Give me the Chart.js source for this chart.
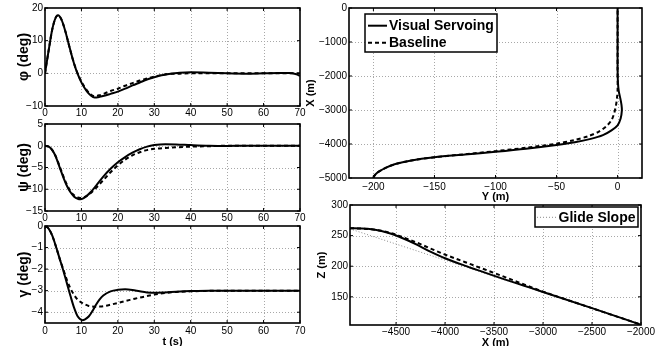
<!DOCTYPE html>
<html><head><meta charset="utf-8">
<script src="https://cdn.jsdelivr.net/npm/chart.js@4"></script>
<style>
html,body{margin:0;padding:0;background:#fff;overflow:hidden;width:664px;height:346px}
canvas{position:absolute}
</style></head><body>
<canvas id="c1" width="310" height="120" style="left:0;top:0;width:310px;height:120px"></canvas>
<canvas id="c2" width="310" height="109" style="left:0;top:116px;width:310px;height:109px"></canvas>
<canvas id="c3" width="310" height="140" style="left:0;top:218px;width:310px;height:140px"></canvas>
<canvas id="c4" width="374" height="204" style="left:290px;top:0;width:374px;height:204px"></canvas>
<canvas id="c5" width="374" height="160" style="left:290px;top:197px;width:374px;height:160px"></canvas>
<script>
// ---------- data ----------
const timeTicks = [0,10,20,30,40,50,60,70];

const tPhi  = [0,1,2,3,3.6,4.5,5.5,6.5,7.5,8.5,9.5,10.5,11.5,12.5,13.6,15,16.5,18,20,22,24,26,28,30,32,34,37,40,45,50,55,60,64,67,69,70];
const phiVS = [0,7,13.5,17.2,17.8,16.5,13.2,9,4.8,1.2,-1.6,-3.8,-5.5,-6.7,-7.4,-7.2,-6.8,-6.3,-5.6,-4.7,-3.7,-2.8,-1.9,-1.2,-0.6,-0.2,0.2,0.3,0.2,0,-0.1,0,0.1,0.1,-0.3,-0.8];
const phiBL = [0,7,13.5,17.2,17.8,16.5,13.2,9,4.8,1.3,-1.4,-3.5,-5.2,-6.4,-7.0,-6.7,-6.1,-5.4,-4.7,-3.8,-3.0,-2.2,-1.6,-1.0,-0.5,-0.2,-0.1,0,0,0,0,0,0,0,0,0];
const phiTicks = [-10,0,10,20];

const tPsi  = [0,1,2,3,4,5,6,7,8,9,9.7,10.5,11.5,12.5,14,16,18,20,22,24,26,28,30,33,36,40,45,50,55,60,65,70];
const psiVS = [0,-0.2,-1,-2.6,-4.9,-7.2,-9.2,-10.7,-11.7,-12.2,-12.3,-12.1,-11.5,-10.7,-9.2,-7.1,-5.3,-3.8,-2.6,-1.6,-0.8,-0.2,0.15,0.35,0.3,0.15,0,-0.05,0,0,0,0];
const psiBL = [0,-0.2,-1,-2.5,-4.7,-6.9,-8.9,-10.4,-11.4,-11.9,-12.0,-11.9,-11.5,-10.9,-9.7,-7.9,-6.1,-4.5,-3.2,-2.2,-1.5,-1.0,-0.7,-0.5,-0.35,-0.2,-0.1,0,0,0,0,0];
const psiTicks = [-15,-10,-5,0,5];

const tGam  = [0,1,2,3,4,5,6,7,8,9,10.3,11,12,13,14,15,16,18,20,22,24,26,28,30,33,36,40,45,50,60,70];
const gamVS = [0,-0.12,-0.45,-0.95,-1.5,-2.05,-2.65,-3.25,-3.8,-4.2,-4.37,-4.33,-4.2,-3.95,-3.65,-3.4,-3.22,-3.03,-2.96,-2.94,-2.97,-3.03,-3.08,-3.1,-3.08,-3.05,-3.02,-3.0,-3.0,-3.0,-3.0];
const gamBL = [0,-0.12,-0.45,-0.95,-1.5,-2.0,-2.5,-2.9,-3.2,-3.42,-3.58,-3.64,-3.71,-3.74,-3.75,-3.74,-3.72,-3.65,-3.57,-3.48,-3.4,-3.32,-3.25,-3.18,-3.11,-3.06,-3.03,-3.01,-3.0,-3.0,-3.0];
const gamTicks = [-4,-3,-2,-1,0];

const xyVS_Y = [-200,-199.5,-198,-195,-190,-182,-170,-150,-125,-100,-75,-50,-35,-22,-12,-5,0,2.5,3.5,3.2,2.2,1,0.3,0,0,0];
const xyVS_X = [-5000,-4950,-4880,-4800,-4700,-4590,-4490,-4390,-4310,-4230,-4140,-4030,-3950,-3850,-3740,-3600,-3450,-3250,-3020,-2850,-2650,-2450,-2200,-1800,-1000,0];
const xyBL_Y = [-200,-199.5,-198,-195,-190,-182,-170,-150,-125,-100,-75,-50,-36,-24,-15,-9,-5,-3,-1.5,-0.5,0,0,0];
const xyBL_X = [-5000,-4950,-4880,-4800,-4700,-4590,-4490,-4390,-4300,-4210,-4110,-3990,-3890,-3770,-3630,-3470,-3300,-3120,-2900,-2650,-2400,-1800,0];
const yTicksTop = [-200,-150,-100,-50,0];
const xTicksTop = [-5000,-4000,-3000,-2000,-1000,0];

const xzX  = [-4970,-4850,-4750,-4650,-4550,-4450,-4350,-4250,-4150,-4000,-3800,-3600,-3400,-3200,-3000,-2500,-2000];
const xzVS = [262,261.5,260.3,257.5,253,247,240,232,224,213,201,190,179,168.5,158,131.5,104.5];
const xzBL = [262,261.5,260.3,257.8,254,248.5,242.5,236,229,219,207,195,183,170.5,158.5,131.5,104.5];
const glideX = [-4970,-2000];
const glideZ = [261,104.5];
const xTicksBot = [-4500,-4000,-3500,-3000,-2500,-2000];
const zTicks = [150,200,250,300];

// ---------- helpers ----------
const FONT = "'Liberation Sans', Arial, Helvetica, sans-serif";
function pts(xs, ys){ return xs.map((x,i)=>({x:x, y:ys[i]})); }
function fmt(v){ return v < 0 ? '\u2212' + Math.abs(v) : String(v); }

const frame = {
  id:'frame',
  beforeDatasetsDraw(chart){
    const {ctx, chartArea:a, scales} = chart; const x = scales.x, y = scales.y;
    ctx.save(); ctx.strokeStyle = '#a8a8a8'; ctx.lineWidth = 1; ctx.setLineDash([1,2]);
    ctx.beginPath();
    x.ticks.forEach(t => { const p = Math.round(x.getPixelForValue(t.value)) + 0.5; if (p > a.left + 2 && p < a.right - 2) { ctx.moveTo(p, a.top); ctx.lineTo(p, a.bottom); } });
    y.ticks.forEach(t => { const p = Math.round(y.getPixelForValue(t.value)) + 0.5; if (p > a.top + 2 && p < a.bottom - 2) { ctx.moveTo(a.left, p); ctx.lineTo(a.right, p); } });
    ctx.stroke(); ctx.restore();
  },
  afterDatasetsDraw(chart, args, o){
    const {ctx, chartArea:a, scales} = chart; const x = scales.x, y = scales.y;
    ctx.save(); ctx.setLineDash([]); ctx.strokeStyle = '#000';
    ctx.lineWidth = 1; ctx.beginPath();
    const TL = 3;
    x.ticks.forEach(t => { const p = x.getPixelForValue(t.value); ctx.moveTo(p, a.bottom); ctx.lineTo(p, a.bottom - TL); ctx.moveTo(p, a.top); ctx.lineTo(p, a.top + TL); });
    y.ticks.forEach(t => { const p = y.getPixelForValue(t.value); ctx.moveTo(a.left, p); ctx.lineTo(a.left + TL, p); ctx.moveTo(a.right, p); ctx.lineTo(a.right - TL, p); });
    ctx.stroke();
    ctx.lineWidth = 1.6; ctx.strokeRect(a.left, a.top, a.right - a.left, a.bottom - a.top);
    const L = o.legend;
    if (L) {
      const bx = a.left + L.x, by = a.top + L.y;
      if (L.x < 0) { }
      const rx = L.fromRight ? a.right - L.fromRight - L.w : bx;
      ctx.fillStyle = '#fff'; ctx.fillRect(rx, by, L.w, L.h);
      ctx.lineWidth = 1.5; ctx.strokeRect(rx, by, L.w, L.h);
      ctx.font = 'bold 14px ' + FONT; ctx.textBaseline = 'middle'; ctx.textAlign = 'left';
      L.items.forEach(it => {
        const ds = chart.data.datasets[it.ds];
        const yy = a.top + it.y;
        ctx.save(); ctx.strokeStyle = ds.borderColor; ctx.lineWidth = ds.borderWidth; ctx.setLineDash(ds.borderDash || []);
        ctx.beginPath(); ctx.moveTo(rx + it.x0, yy); ctx.lineTo(rx + it.x1, yy); ctx.stroke(); ctx.restore();
        ctx.fillStyle = '#000'; ctx.fillText(ds.label, rx + it.tx, yy + 0.5);
      });
    }
    ctx.restore();
  }
};

function mkScale(o){
  return {
    type:'linear', min:o.min, max:o.max, position:o.pos,
    afterBuildTicks: s => { s.ticks = o.ticks.map(v => ({value:v})); },
    afterFit: s => { if (o.pos === 'bottom') s.height = o.size; else s.width = o.size; s.paddingLeft = 0; s.paddingRight = 0; s.paddingTop = 0; s.paddingBottom = 0; },
    grid:{display:false, drawTicks:false}, border:{display:false},
    ticks:{autoSkip:false, maxRotation:0, minRotation:0, padding:o.pad, color:'#000', font:{family:FONT, size:10}, callback: v => fmt(v)},
    title: o.title ? {display:true, text:o.title, color:'#000', font:{family:FONT, size:o.tsize, weight:'bold'}, padding:o.tpad} : {display:false}
  };
}

function solid(label, data, extra){ return Object.assign({label:label, data:data, showLine:true, borderColor:'#000', borderWidth:2, pointRadius:0, fill:false, order:1}, extra||{}); }
function dashed(label, data, extra){ return Object.assign({label:label, data:data, showLine:true, borderColor:'#000', borderWidth:2, borderDash:[4,3], pointRadius:0, fill:false, order:0}, extra||{}); }

function mkChart(id, datasets, pad, xs, ys, legend){
  return new Chart(document.getElementById(id), {
    type:'scatter',
    data:{datasets:datasets},
    options:{
      responsive:false, animation:false, events:[],
      layout:{padding:pad, autoPadding:false},
      plugins:{legend:{display:false}, tooltip:{enabled:false}, frame:{legend:legend||null}},
      scales:{x:mkScale(xs), y:mkScale(ys)}
    },
    plugins:[frame]
  });
}

const mono = {cubicInterpolationMode:'monotone'};

mkChart('c1',
  [solid('Visual Servoing', pts(tPhi, phiVS), mono), dashed('Baseline', pts(tPhi, phiBL), mono)],
  {left:0, top:8, right:10, bottom:0},
  {pos:'bottom', min:0, max:70, ticks:timeTicks, size:14, pad:1},
  {pos:'left', min:-10, max:20, ticks:phiTicks, size:45, pad:2, title:'\u03c6 (deg)', tsize:14, tpad:{top:15.6, bottom:0}});

mkChart('c2',
  [solid('Visual Servoing', pts(tPsi, psiVS), mono), dashed('Baseline', pts(tPsi, psiBL), mono)],
  {left:0, top:8, right:10, bottom:0},
  {pos:'bottom', min:0, max:70, ticks:timeTicks, size:14, pad:1},
  {pos:'left', min:-15, max:5, ticks:psiTicks, size:45, pad:2, title:'\u03c8 (deg)', tsize:14, tpad:{top:15.6, bottom:0}});

mkChart('c3',
  [solid('Visual Servoing', pts(tGam, gamVS), mono), dashed('Baseline', pts(tGam, gamBL), mono)],
  {left:0, top:8, right:10, bottom:0},
  {pos:'bottom', min:0, max:70, ticks:timeTicks, size:35, pad:2, title:'t (s)', tsize:11, tpad:{top:0, bottom:9.9}},
  {pos:'left', min:-4.5, max:0, ticks:gamTicks, size:45, pad:2, title:'\u03b3 (deg)', tsize:14, tpad:{top:15.6, bottom:0}});

mkChart('c4',
  [solid('Visual Servoing', pts(xyVS_Y, xyVS_X), {tension:0.3}), dashed('Baseline', pts(xyBL_Y, xyBL_X), {tension:0.3})],
  {left:0, top:8, right:22, bottom:0},
  {pos:'bottom', min:-220, max:20, ticks:yTicksTop, size:26, pad:3, title:'Y (m)', tsize:11, tpad:{top:0, bottom:0.9}},
  {pos:'left', min:-5000, max:0, ticks:xTicksTop, size:59, pad:2, title:'X (m)', tsize:11, tpad:{top:14.4, bottom:0}},
  {x:16, y:6, w:132, h:38, items:[{ds:0, y:17.7, x0:3, x1:22, tx:24}, {ds:1, y:34.7, x0:3, x1:22, tx:24}]});

mkChart('c5',
  [solid('Visual Servoing', pts(xzX, xzVS), mono), dashed('Baseline', pts(xzX, xzBL), mono),
   {label:'Glide Slope', data:pts(glideX, glideZ), showLine:true, borderColor:'#8a8a8a', borderWidth:1, borderDash:[1,2], pointRadius:0, fill:false, order:2}],
  {left:0, top:8, right:23, bottom:0},
  {pos:'bottom', min:-4970, max:-2000, ticks:xTicksBot, size:32, pad:1, title:'X (m)', tsize:11, tpad:{top:0, bottom:7.4}},
  {pos:'left', min:104, max:300, ticks:zTicks, size:60, pad:2, title:'Z (m)', tsize:11, tpad:{top:25.4, bottom:0}},
  {x:185, y:2, w:103, h:20, items:[{ds:2, y:12.3, x0:2, x1:22, tx:23.5}]});
</script>
</body></html>
